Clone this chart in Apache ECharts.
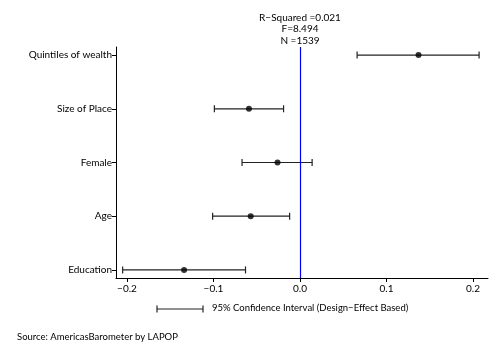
<!DOCTYPE html>
<html>
<head>
<meta charset="utf-8">
<script src="https://cdn.jsdelivr.net/npm/echarts@6/dist/echarts.min.js"></script>
<style>html,body{margin:0;padding:0;background:#fff}#c{width:500px;height:364px}</style>
</head>
<body>
<div id="c"></div>
<script>
var categories = ['Quintiles of wealth', 'Size of Place', 'Female', 'Age', 'Education'];
var estimates = [0.137, -0.059, -0.026, -0.057, -0.134];
var lowerCI = [0.066, -0.099, -0.067, -0.101, -0.205];
var upperCI = [0.207, -0.019, 0.014, -0.012, -0.063];
var xTicks = [-0.2, -0.1, 0.0, 0.1, 0.2];
var statsLines = ['R\u2212Squared =0.021', 'F=8.494', 'N =1539'];
var legendText = '95% Confidence Interval (Design\u2212Effect Based)';
var sourceText = 'Source: AmericasBarometer by LAPOP';

var FONT = 'Lato';
var chart = echarts.init(document.getElementById('c'), null, {renderer: 'canvas'});
var catIdx = categories.map(function (c, i) { return i; });
var ciData = categories.map(function (c, i) { return [lowerCI[i], upperCI[i], i]; });
var ptData = categories.map(function (c, i) { return [estimates[i], i]; });

var option = {
  animation: false,
  backgroundColor: '#fff',
  grid: {left: 116, right: 12, top: 47, bottom: 86},
  xAxis: {
    type: 'value', min: -0.2127, max: 0.2173,
    splitLine: {show: false},
    axisLine: {show: true, onZero: false, lineStyle: {color: '#000', width: 1}},
    axisTick: {show: true, length: 4, customValues: xTicks, lineStyle: {color: '#000'}},
    axisLabel: {customValues: xTicks, color: '#000', fontFamily: FONT, fontSize: 10, margin: 6,
      formatter: function (v) { return (v < 0 ? '\u2212' : '') + Math.abs(v).toFixed(1); }}
  },
  yAxis: {
    type: 'value', inverse: true, min: -0.15, max: 4.15,
    splitLine: {show: false},
    axisLine: {show: true, onZero: false, lineStyle: {color: '#000', width: 1}},
    axisTick: {show: true, length: 4, customValues: catIdx, lineStyle: {color: '#000'}},
    axisLabel: {customValues: catIdx, color: '#000', fontFamily: FONT, fontSize: 10, margin: 4,
      formatter: function (v) { return categories[Math.round(v)]; }}
  },
  series: [
    {
      type: 'custom',
      data: ciData,
      encode: {x: [0, 1], y: 2},
      renderItem: function (params, api) {
        var a = api.coord([api.value(0), api.value(2)]);
        var b = api.coord([api.value(1), api.value(2)]);
        var h = 3.5;
        var st = {stroke: '#222', lineWidth: 1.2};
        return {type: 'group', children: [
          {type: 'line', shape: {x1: a[0], y1: a[1], x2: b[0], y2: b[1]}, style: st},
          {type: 'line', shape: {x1: a[0], y1: a[1] - h, x2: a[0], y2: a[1] + h}, style: st},
          {type: 'line', shape: {x1: b[0], y1: b[1] - h, x2: b[0], y2: b[1] + h}, style: st}
        ]};
      },
      markLine: {
        silent: true, symbol: ['none', 'none'],
        label: {show: false},
        lineStyle: {color: '#0000ff', width: 1.2, type: 'solid'},
        data: [{xAxis: 0}]
      },
      z: 2
    },
    {
      type: 'scatter', data: ptData, symbol: 'circle', symbolSize: 6,
      itemStyle: {color: '#000'}, z: 3
    }
  ],
  graphic: [
    {type: 'text', x: 300, y: 12, style: {text: statsLines.join('\n'), fill: '#000', font: '10px ' + FONT, align: 'center', lineHeight: 11.5}},
    {type: 'group', x: 0, y: 0, children: [
      {type: 'line', shape: {x1: 157, y1: 309, x2: 203, y2: 309}, style: {stroke: '#222', lineWidth: 1.2}},
      {type: 'line', shape: {x1: 157, y1: 305.5, x2: 157, y2: 312.5}, style: {stroke: '#222', lineWidth: 1.2}},
      {type: 'line', shape: {x1: 203, y1: 305.5, x2: 203, y2: 312.5}, style: {stroke: '#222', lineWidth: 1.2}}
    ]},
    {type: 'text', x: 212, y: 303, style: {text: legendText, fill: '#000', font: '9.5px ' + FONT}},
    {type: 'text', x: 17, y: 332, style: {text: sourceText, fill: '#000', font: '9.5px ' + FONT}}
  ]
};
chart.setOption(option);
</script>
</body>
</html>
